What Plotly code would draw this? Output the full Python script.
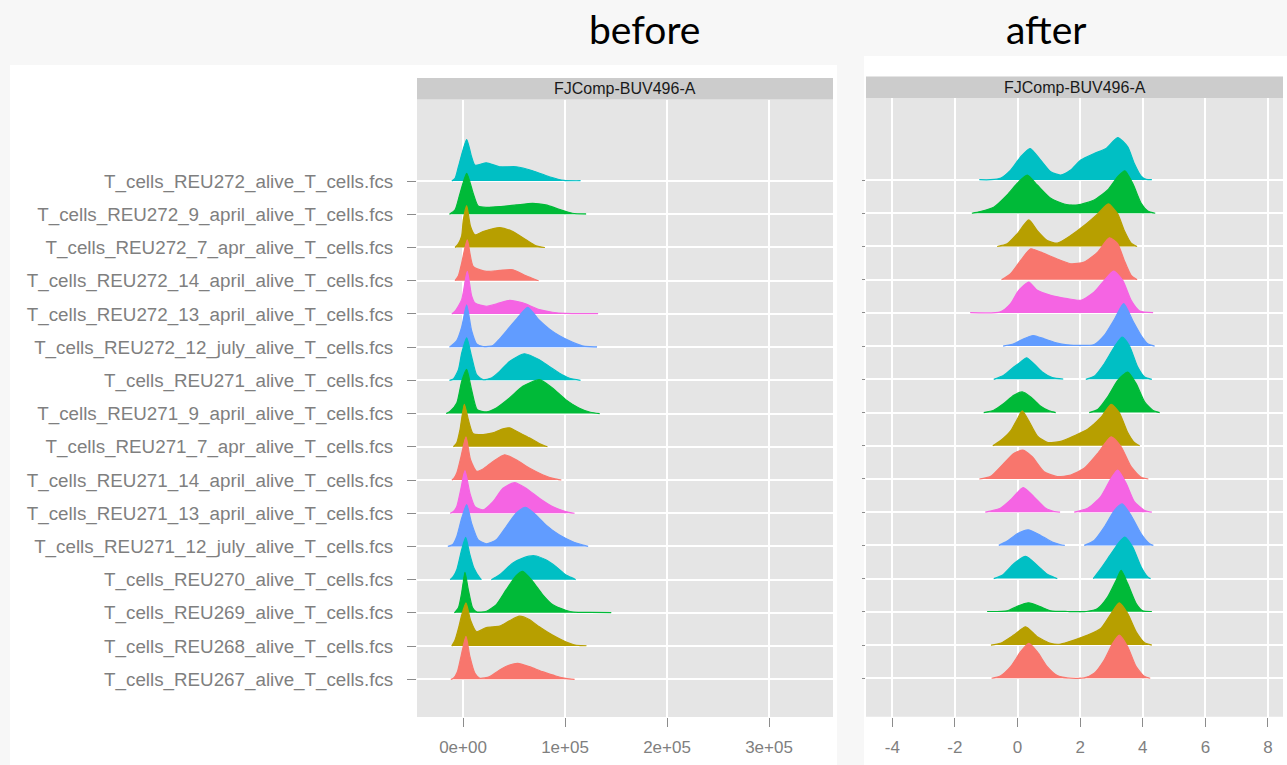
import plotly.graph_objects as go

W, H = 1287, 765

# ---------------- data ----------------
SAMPLES = [  # bottom -> top
    "T_cells_REU267_alive_T_cells.fcs",
    "T_cells_REU268_alive_T_cells.fcs",
    "T_cells_REU269_alive_T_cells.fcs",
    "T_cells_REU270_alive_T_cells.fcs",
    "T_cells_REU271_12_july_alive_T_cells.fcs",
    "T_cells_REU271_13_april_alive_T_cells.fcs",
    "T_cells_REU271_14_april_alive_T_cells.fcs",
    "T_cells_REU271_7_apr_alive_T_cells.fcs",
    "T_cells_REU271_9_april_alive_T_cells.fcs",
    "T_cells_REU271_alive_T_cells.fcs",
    "T_cells_REU272_12_july_alive_T_cells.fcs",
    "T_cells_REU272_13_april_alive_T_cells.fcs",
    "T_cells_REU272_14_april_alive_T_cells.fcs",
    "T_cells_REU272_7_apr_alive_T_cells.fcs",
    "T_cells_REU272_9_april_alive_T_cells.fcs",
    "T_cells_REU272_alive_T_cells.fcs",
]
PALETTE = ["#F8766D", "#B79F00", "#00BA38", "#00BFC4", "#619CFF", "#F564E3"]

PANEL_TITLES = ["before", "after"]
STRIP_LABEL = "FJComp-BUV496-A"

BEFORE_TICKS = [0, 100000, 200000, 300000]
BEFORE_TICKTEXT = ["0e+00", "1e+05", "2e+05", "3e+05"]
AFTER_TICKS = [-4, -2, 0, 2, 4, 6, 8]

# "before" densities: x in units of 1e4, heights in row units (None = gap)
BEFORE_X = [
    [-1.20, -0.94, -0.55, -0.13, 0.29, 0.68, 1.17, 1.65, 2.62, 3.59, 4.56, 5.37, 6.50, 7.80, 9.09, 10.06, 10.94],
    [-1.10, -0.78, -0.45, -0.13, 0.29, 0.74, 1.33, 2.30, 3.59, 4.56, 5.53, 6.50, 7.48, 8.77, 10.06, 10.87, 11.5, 12.10],
    [-0.84, -0.45, -0.13, 0.19, 0.52, 0.94, 1.33, 2.30, 3.27, 4.24, 5.21, 5.86, 6.83, 7.80, 8.77, 10.06, 10.87, 12.5, 14.53],
    [-1.26, -0.94, -0.61, -0.13, 0.26, 0.68, 1.07, 1.65, 1.81, None,
     2.78, 2.94, 3.59, 4.89, 5.86, 6.99, 8.12, 9.09, 10.06, 10.87, 11.04],
    [-1.49, -1.0, -0.61, -0.13, 0.36, 0.84, 1.49, 2.30, 3.27, 4.24, 5.21, 6.12, 7.15, 8.12, 9.42, 10.71, 11.68, 12.27],
    [-1.26, -0.94, -0.61, -0.23, 0.19, 0.68, 1.17, 1.97, 2.94, 3.92, 5.05, 6.18, 7.48, 8.77, 10.06, 10.94],
    [-1.10, -0.94, -0.61, -0.19, 0.29, 0.74, 1.33, 1.97, 2.94, 4.08, 5.21, 6.50, 7.80, 8.93, 9.64],
    [-0.94, -0.61, -0.29, 0.13, 0.52, 1.00, 1.97, 2.94, 3.92, 4.56, 5.53, 6.50, 7.48, 8.28],
    [-1.65, -1.26, -0.61, -0.13, 0.36, 0.84, 1.39, 2.30, 3.27, 4.56, 5.86, 7.48, 8.77, 10.06, 11.36, 12.49, 13.40],
    [-1.33, -0.94, -0.45, -0.13, 0.36, 0.84, 1.33, 1.97, 2.78, 3.59, 4.56, 6.02, 7.48, 8.45, 9.42, 10.39, 11.52],
    [-1.33, -0.61, -0.13, 0.36, 0.84, 1.33, 1.97, 2.94, 3.59, 4.56, 5.53, 6.34, 7.48, 8.45, 9.42, 10.71, 11.68, 12.4, 13.14],
    [-1.10, -0.78, -0.13, 0.42, 0.84, 1.17, 2.30, 3.59, 4.56, 5.86, 7.48, 8.77, 10.0, 13.24],
    [-0.78, -0.45, -0.13, 0.42, 1.00, 2.30, 3.59, 4.89, 6.18, 7.15, 7.41],
    [-0.78, -0.45, -0.13, 0.03, 0.36, 0.74, 1.17, 1.97, 3.59, 4.89, 6.18, 7.15, 8.03],
    [-1.33, -0.78, -0.29, 0.36, 1.00, 1.49, 2.30, 3.59, 5.21, 6.83, 8.12, 9.42, 10.71, 12.07],
    [-1.10, -0.78, -0.45, 0.36, 0.84, 1.17, 2.30, 3.59, 5.21, 6.83, 8.45, 9.90, 11.52],
]
BEFORE_H = [
    [0, 0.03, 0.23, 0.78, 1.29, 0.68, 0.18, 0.03, 0.08, 0.28, 0.43, 0.48, 0.38, 0.23, 0.10, 0.03, 0],
    [0, 0.18, 0.53, 0.93, 1.30, 0.78, 0.43, 0.56, 0.60, 0.76, 0.90, 0.80, 0.58, 0.33, 0.13, 0.04, 0.015, 0.01],
    [0, 0.15, 0.60, 1.22, 0.70, 0.15, 0.03, 0.05, 0.25, 0.70, 1.12, 1.25, 0.95, 0.55, 0.25, 0.08, 0.02, 0.012, 0.01],
    [0, 0.10, 0.30, 0.90, 1.27, 0.75, 0.35, 0.05, 0, None,
     0, 0.03, 0.15, 0.50, 0.65, 0.72, 0.60, 0.40, 0.15, 0.03, 0],
    [0, 0.06, 0.30, 0.85, 1.26, 0.70, 0.20, 0.08, 0.20, 0.60, 1.00, 1.18, 0.95, 0.65, 0.35, 0.15, 0.05, 0],
    [0, 0.05, 0.20, 0.70, 1.28, 0.60, 0.20, 0.10, 0.35, 0.75, 0.92, 0.75, 0.45, 0.20, 0.05, 0],
    [0, 0.03, 0.21, 0.71, 1.30, 0.61, 0.26, 0.33, 0.56, 0.76, 0.61, 0.36, 0.16, 0.04, 0],
    [0, 0.12, 0.52, 1.28, 0.82, 0.39, 0.37, 0.42, 0.54, 0.57, 0.42, 0.27, 0.10, 0],
    [0, 0.07, 0.32, 0.97, 1.33, 0.72, 0.12, 0.05, 0.17, 0.47, 0.82, 1.02, 0.77, 0.42, 0.17, 0.04, 0],
    [0, 0.04, 0.32, 0.82, 1.28, 0.72, 0.17, 0.02, 0.07, 0.27, 0.57, 0.80, 0.62, 0.42, 0.22, 0.07, 0],
    [0, 0.20, 0.60, 1.27, 0.50, 0.10, 0.02, 0.05, 0.25, 0.60, 0.95, 1.20, 0.81, 0.55, 0.35, 0.15, 0.04, 0.015, 0.01],
    [0, 0.08, 0.43, 1.28, 0.55, 0.33, 0.23, 0.33, 0.41, 0.33, 0.13, 0.05, 0.015, 0.01],
    [0, 0.15, 0.53, 1.23, 0.43, 0.28, 0.31, 0.33, 0.15, 0.03, 0],
    [0, 0.12, 0.35, 0.83, 1.26, 0.63, 0.38, 0.48, 0.60, 0.48, 0.23, 0.05, 0],
    [0, 0.13, 0.63, 1.23, 0.63, 0.25, 0.21, 0.23, 0.28, 0.33, 0.28, 0.15, 0.03, 0.01],
    [0, 0.08, 0.43, 1.25, 0.73, 0.48, 0.55, 0.43, 0.43, 0.31, 0.13, 0.02, 0.01],
]

# "after" densities: x in data units, heights in row units (None = gap)
AFTER_X = [
    [-0.83, -0.55, -0.22, 0.10, 0.36, 0.63, 0.95, 1.27, 1.59, 2.13, 2.45, 2.77, 3.04, 3.25, 3.52, 3.79, 4.06, 4.24],
    [-0.85, -0.55, -0.12, 0.26, 0.63, 1.06, 1.38, 1.81, 2.24, 2.66, 2.99, 3.25, 3.52, 3.79, 4.06, 4.29],
    [-0.97, -0.33, -0.01, 0.36, 0.74, 1.06, 1.60, 2.20, 2.56, 2.88, 3.15, 3.31, 3.52, 3.79, 4.00, 4.29],
    [-0.76, -0.49, -0.12, 0.26, 0.63, 0.95, 1.22, 1.27, None,
     2.42, 2.66, 2.99, 3.25, 3.43, 3.68, 3.95, 4.16, 4.25],
    [-0.60, -0.33, -0.01, 0.34, 0.74, 1.11, 1.38, 1.51, None,
     2.13, 2.45, 2.77, 3.09, 3.34, 3.63, 3.95, 4.22, 4.34],
    [-1.03, -0.55, -0.17, 0.18, 0.52, 0.90, 1.17, 1.36, None,
     1.81, 2.24, 2.66, 2.99, 3.20, 3.47, 3.73, 4.06, 4.29],
    [-1.22, -0.87, -0.44, -0.12, 0.17, 0.47, 0.85, 1.27, 1.70, 2.13, 2.56, 2.99, 3.31, 3.63, 3.95, 4.18],
    [-0.79, -0.55, -0.22, -0.01, 0.15, 0.36, 0.63, 0.95, 1.38, 1.81, 2.24, 2.66, 2.99, 3.25, 3.52, 3.73, 3.90],
    [-1.08, -0.76, -0.44, -0.12, 0.15, 0.42, 0.74, 1.01, 1.22, None,
     2.29, 2.56, 2.88, 3.20, 3.52, 3.79, 4.06, 4.32, 4.54],
    [-0.76, -0.44, -0.12, 0.10, 0.29, 0.52, 0.79, 1.11, 1.46, None,
     2.18, 2.45, 2.77, 3.09, 3.34, 3.57, 3.84, 4.06, 4.29],
    [-0.46, -0.12, 0.20, 0.50, 0.85, 1.27, 1.59, 2.02, 2.45, 2.77, 3.09, 3.39, 3.68, 3.95, 4.16, 4.38],
    [-1.51, -0.55, -0.22, 0.04, 0.36, 0.63, 1.06, 1.59, 2.02, 2.45, 2.77, 3.07, 3.36, 3.63, 3.90, 4.33],
    [-0.51, -0.22, 0.10, 0.42, 0.74, 1.17, 1.70, 2.13, 2.56, 2.93, 3.20, 3.41, 3.63, 3.82],
    [-0.65, -0.33, -0.01, 0.36, 0.63, 0.95, 1.27, 1.70, 2.13, 2.56, 2.90, 3.20, 3.41, 3.63, 3.82],
    [-1.46, -1.19, -0.76, -0.33, 0.04, 0.31, 0.63, 1.06, 1.49, 1.92, 2.45, 2.88, 3.20, 3.43, 3.68, 3.95, 4.16, 4.40],
    [-1.22, -0.87, -0.55, -0.22, 0.10, 0.40, 0.74, 1.06, 1.38, 1.70, 2.02, 2.45, 2.83, 3.20, 3.52, 3.73, 3.95, 4.11, 4.29],
]
AFTER_H = [
    [0, 0.07, 0.35, 0.80, 1.05, 0.80, 0.35, 0.08, 0.01, 0.01, 0.15, 0.55, 1.05, 1.30, 0.95, 0.35, 0.05, 0],
    [0, 0.05, 0.30, 0.55, 0.25, 0.05, 0.03, 0.15, 0.30, 0.50, 0.95, 1.27, 0.95, 0.40, 0.07, 0],
    [0.01, 0.03, 0.17, 0.27, 0.15, 0.03, 0.01, 0.01, 0.10, 0.45, 0.95, 1.25, 0.85, 0.25, 0.03, 0.01],
    [0, 0.10, 0.45, 0.67, 0.40, 0.13, 0.02, 0, None,
     0, 0.30, 0.75, 1.10, 1.25, 0.95, 0.35, 0.05, 0],
    [0, 0.13, 0.35, 0.47, 0.30, 0.10, 0.02, 0, None,
     0, 0.15, 0.55, 1.05, 1.25, 0.90, 0.35, 0.05, 0],
    [0, 0.12, 0.42, 0.74, 0.47, 0.12, 0.02, 0, None,
     0, 0.12, 0.47, 1.02, 1.27, 0.87, 0.32, 0.05, 0],
    [0, 0.07, 0.47, 0.77, 0.87, 0.67, 0.22, 0.07, 0.12, 0.32, 0.77, 1.27, 0.97, 0.37, 0.05, 0],
    [0, 0.15, 0.45, 0.80, 1.05, 0.75, 0.30, 0.10, 0.13, 0.30, 0.50, 0.85, 1.25, 1.00, 0.40, 0.10, 0],
    [0, 0.07, 0.27, 0.52, 0.62, 0.47, 0.19, 0.05, 0, None,
     0, 0.09, 0.47, 0.97, 1.22, 0.87, 0.32, 0.07, 0],
    [0, 0.12, 0.37, 0.52, 0.65, 0.47, 0.22, 0.05, 0.01, None,
     0, 0.09, 0.47, 0.97, 1.27, 1.02, 0.37, 0.07, 0],
    [0, 0.07, 0.22, 0.32, 0.22, 0.09, 0.04, 0.02, 0.05, 0.32, 0.80, 1.28, 0.77, 0.32, 0.07, 0],
    [0.01, 0.03, 0.28, 0.68, 0.93, 0.68, 0.53, 0.43, 0.38, 0.63, 0.98, 1.26, 0.98, 0.38, 0.06, 0.01],
    [0, 0.18, 0.58, 0.93, 0.83, 0.66, 0.48, 0.53, 0.83, 1.26, 1.08, 0.58, 0.13, 0],
    [0, 0.08, 0.38, 0.80, 0.48, 0.18, 0.10, 0.33, 0.63, 0.98, 1.28, 0.98, 0.48, 0.10, 0],
    [0, 0.05, 0.18, 0.55, 0.95, 1.15, 0.85, 0.45, 0.28, 0.25, 0.40, 0.70, 1.10, 1.28, 0.90, 0.30, 0.07, 0],
    [0.01, 0.01, 0.05, 0.30, 0.70, 0.95, 0.60, 0.25, 0.15, 0.30, 0.60, 0.80, 0.95, 1.28, 1.00, 0.50, 0.12, 0.02, 0.01],
]
BEFORE_X_UNIT = 1e4

# ---------------- figure ----------------
fig = go.Figure()


def segments(xs, hs):
    segs, cx, ch = [], [], []
    for x, h in zip(xs, hs):
        if x is None:
            segs.append((cx, ch))
            cx, ch = [], []
        else:
            cx.append(x)
            ch.append(h)
    if cx:
        segs.append((cx, ch))
    return segs


def add_panel(xlist, hlist, xscale, xa, ya):
    n = len(SAMPLES)
    for i in reversed(range(n)):  # top rows first, lower rows on top
        row = i + 1
        col = PALETTE[i % len(PALETTE)]
        for sx, sh in segments(xlist[i], hlist[i]):
            xx = [v * xscale for v in sx]
            fig.add_trace(go.Scatter(x=xx, y=[row] * len(xx), mode="lines",
                                     line=dict(width=0, color=col), xaxis=xa, yaxis=ya,
                                     hoverinfo="skip", showlegend=False))
            fig.add_trace(go.Scatter(x=xx, y=[row + h for h in sh], mode="lines",
                                     line=dict(width=1.2, color=col, shape="spline", smoothing=0.6),
                                     fill="tonexty", fillcolor=col, xaxis=xa, yaxis=ya,
                                     hoverinfo="skip", showlegend=False))


add_panel(BEFORE_X, BEFORE_H, BEFORE_X_UNIT, "x", "y")
add_panel(AFTER_X, AFTER_H, 1.0, "x2", "y2")


def px(x):
    return x / W


def py(y):
    return 1 - y / H


AX_FONT = dict(family="Liberation Sans, Arial, sans-serif", size=17, color="#7F7F7F")
TICK_COL = "#8C8C8C"
GRID_COL = "#FFFFFF"

fig.update_layout(
    width=W, height=H,
    margin=dict(l=0, r=0, t=0, b=0),
    paper_bgcolor="#F7F7F7",
    plot_bgcolor="rgba(0,0,0,0)",
    showlegend=False,
    xaxis=dict(domain=[px(417), px(833)], range=[-45100, 362700], anchor="y",
               tickmode="array", tickvals=BEFORE_TICKS, ticktext=BEFORE_TICKTEXT,
               showgrid=True, gridcolor=GRID_COL, gridwidth=1.6, zeroline=False,
               ticks="outside", ticklen=9, tickcolor=TICK_COL, tickwidth=1,
               tickfont=AX_FONT, ticklabelstandoff=6, showline=False),
    yaxis=dict(domain=[py(717), py(99.5)], range=[-0.135, 18.455], anchor="x",
               tickmode="array", tickvals=list(range(1, len(SAMPLES) + 1)), ticktext=SAMPLES,
               showgrid=True, gridcolor=GRID_COL, gridwidth=1.6, zeroline=False,
               ticks="outside", ticklen=9, tickcolor=TICK_COL, tickwidth=1,
               tickfont=dict(family="Liberation Sans, Arial, sans-serif", size=18.8, color="#7F7F7F"),
               ticklabelstandoff=10, showline=False),
    xaxis2=dict(domain=[px(866), px(1283)], range=[-4.84, 8.48], anchor="y2",
                tickmode="array", tickvals=AFTER_TICKS, ticktext=[str(v) for v in AFTER_TICKS],
                showgrid=True, gridcolor=GRID_COL, gridwidth=1.6, zeroline=False,
                ticks="outside", ticklen=9, tickcolor=TICK_COL, tickwidth=1,
                tickfont=AX_FONT, ticklabelstandoff=6, showline=False),
    yaxis2=dict(domain=[py(716.7), py(98)], range=[-0.157, 18.47], anchor="x2",
                tickmode="array", tickvals=list(range(1, len(SAMPLES) + 1)),
                showticklabels=False,
                showgrid=True, gridcolor=GRID_COL, gridwidth=1.6, zeroline=False,
                ticks="outside", ticklen=3, tickcolor=TICK_COL, showline=False),
)

shapes = [
    # white slide boxes
    dict(type="rect", xref="paper", yref="paper", x0=px(10), x1=px(837), y0=0, y1=py(65),
         fillcolor="#FFFFFF", line=dict(width=0), layer="below"),
    dict(type="rect", xref="paper", yref="paper", x0=px(864), x1=1, y0=0, y1=py(56),
         fillcolor="#FFFFFF", line=dict(width=0), layer="below"),
    # panel backgrounds
    dict(type="rect", xref="x domain", yref="y domain", x0=0, x1=1, y0=0, y1=1,
         fillcolor="#E5E5E5", line=dict(width=0), layer="below"),
    dict(type="rect", xref="x2 domain", yref="y2 domain", x0=0, x1=1, y0=0, y1=1,
         fillcolor="#E5E5E5", line=dict(width=0), layer="below"),
    # strips
    dict(type="rect", xref="paper", yref="paper", x0=px(417), x1=px(833), y0=py(99.5), y1=py(78),
         fillcolor="#CCCCCC", line=dict(width=0), layer="below"),
    dict(type="rect", xref="paper", yref="paper", x0=px(866), x1=px(1283), y0=py(98), y1=py(76.5),
         fillcolor="#CCCCCC", line=dict(width=0), layer="below"),
]
fig.update_layout(shapes=shapes)

strip_font = dict(family="Liberation Sans, Arial, sans-serif", size=16, color="#1A1A1A")
title_font = dict(family="Lato, Open Sans, sans-serif", size=39, color="#000000")
fig.update_layout(annotations=[
    dict(text=STRIP_LABEL, xref="paper", yref="paper", x=px(625), y=py(88.7),
         showarrow=False, font=strip_font, xanchor="center", yanchor="middle"),
    dict(text=STRIP_LABEL, xref="paper", yref="paper", x=px(1074.5), y=py(87.2),
         showarrow=False, font=strip_font, xanchor="center", yanchor="middle"),
    dict(text=PANEL_TITLES[0], xref="paper", yref="paper", x=px(644), y=py(29),
         showarrow=False, font=title_font, xanchor="center", yanchor="middle"),
    dict(text=PANEL_TITLES[1], xref="paper", yref="paper", x=px(1046), y=py(29),
         showarrow=False, font=title_font, xanchor="center", yanchor="middle"),
])

fig.write_html("out.html")
